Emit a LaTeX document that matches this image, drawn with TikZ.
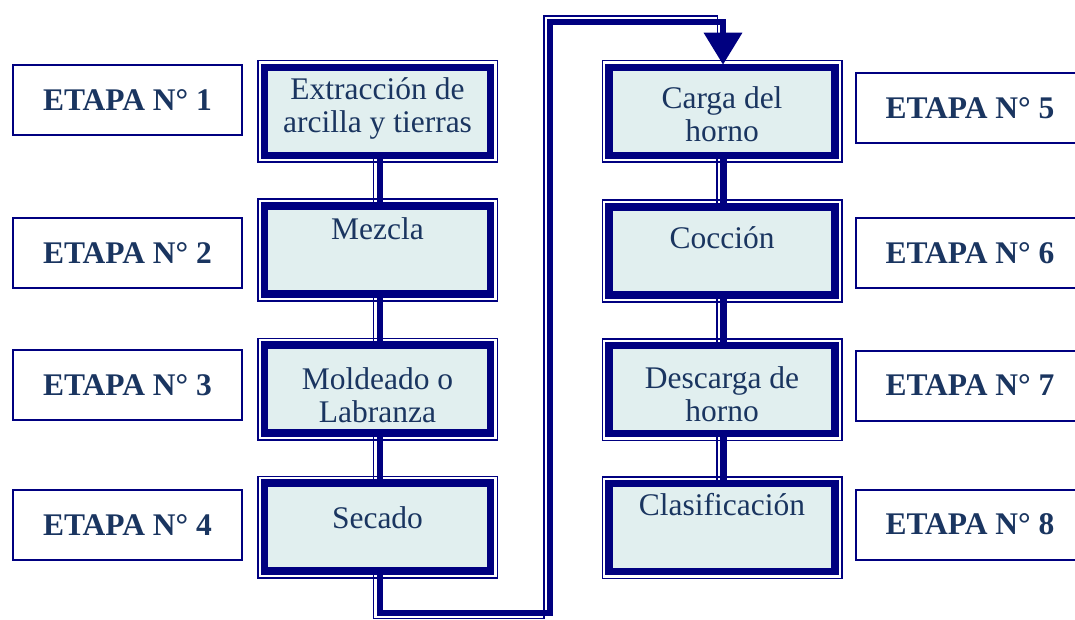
\documentclass[tikz,border=0pt]{standalone}
\usepackage{fontspec}
\setmainfont{Liberation Serif}
\usetikzlibrary{arrows.meta,calc}
\definecolor{navyb}{HTML}{000080}
\definecolor{boxfill}{HTML}{E1EFEF}
\definecolor{txtb}{HTML}{1A3560}
\newcommand{\twolines}[2]{\begin{tabular}[t]{@{}c@{}}#1\\#2\end{tabular}}
\tikzset{
  proc/.style={minimum width=226pt, minimum height=88pt, inner sep=0pt,
    fill=boxfill, draw=navyb, line width=7.5pt,
    preaction={draw=navyb, line width=15pt},
    preaction={draw=white, line width=12pt}},
  ptext/.style={inner sep=0pt, anchor=base, text=txtb,
    font=\fontsize{31.5}{33}\selectfont},
  etq/.style={draw=navyb, line width=2pt, fill=white, minimum width=229pt,
    minimum height=70pt, inner sep=0pt, text=txtb,
    font=\fontsize{31.5}{33}\selectfont\bfseries},
  thickc/.style={draw=navyb, line width=6.5pt},
  thinc/.style={draw=navyb, line width=1.5pt}
}
\begin{document}
\begin{tikzpicture}[x=1pt,y=-1pt]
\useasboundingbox (0,0) rectangle (1075,620);
% process boxes
\node[proc] (b1) at (377.5,111.5) {};
\node[proc] (b2) at (377.5,250) {};
\node[proc] (b3) at (377.5,389) {};
\node[proc] (b4) at (377.5,527) {};
\node[proc] (b5) at (722,111.5) {};
\node[proc] (b6) at (722,251) {};
\node[proc] (b7) at (722,389.5) {};
\node[proc] (b8) at (722,527.5) {};
% texts
\node[ptext] (t1) at (377.5,100) {\twolines{Extracción de}{arcilla y tierras}};
\node[ptext] (t2) at (377.5,240) {Mezcla};
\node[ptext] (t3) at (377.5,389) {\twolines{Moldeado o}{Labranza}};
\node[ptext] (t4) at (377.5,528) {Secado};
\node[ptext] (t5) at (722,109) {\twolines{Carga del}{horno}};
\node[ptext] (t6) at (722,248) {Cocción};
\node[ptext] (t7) at (722,388) {\twolines{Descarga de}{horno}};
\node[ptext] (t8) at (722,515) {Clasificación};
% stage labels
\node[etq] (e1) at (127.5,100) {ETAPA N° 1};
\node[etq] (e2) at (127.5,253) {ETAPA N° 2};
\node[etq] (e3) at (127.5,385) {ETAPA N° 3};
\node[etq] (e4) at (127.5,525) {ETAPA N° 4};
\node[etq] (e5) at (970,108.5) {ETAPA N° 5};
\node[etq] (e6) at (970,253) {ETAPA N° 6};
\node[etq] (e7) at (970,385.5) {ETAPA N° 7};
\node[etq] (e8) at (970,524.5) {ETAPA N° 8};
% connectors between boxes
\foreach \a/\b in {b1/b2,b2/b3,b3/b4} {
  \draw[thinc] ([xshift=-4pt]\a.south) -- ([xshift=-4pt]\b.north);
  \draw[thickc] ([xshift=2.5pt]\a.south) -- ([xshift=2.5pt]\b.north);
}
\foreach \a/\b in {b5/b6,b6/b7,b7/b8} {
  \draw[thinc] ([xshift=-5pt]\a.south) -- ([xshift=-5pt]\b.north);
  \draw[thickc] ([xshift=1.5pt]\a.south) -- ([xshift=1.5pt]\b.north);
}
% long route from b4 to b5
\coordinate (r1) at (380,613);
\coordinate (r2) at (550,613);
\coordinate (r3) at (550,22);
\coordinate (r4) at (723,22);
\coordinate (s1) at (373.5,618.5);
\coordinate (s2) at (544,618.5);
\coordinate (s3) at (544,16);
\coordinate (s4) at (717.5,16);
\coordinate (s5) at (717.5,38);
\draw[thinc] ([xshift=-4pt]b4.south) -- (s1) -- (s2) -- (s3) -- (s4) -- (s5);
\draw[thickc, -{Triangle[width=37pt,length=32pt]}]
  ([xshift=2.5pt]b4.south) -- (r1) -- (r2) -- (r3) -- (r4) -- ([xshift=1pt,yshift=-1pt]b5.north);
\end{tikzpicture}
\end{document}
